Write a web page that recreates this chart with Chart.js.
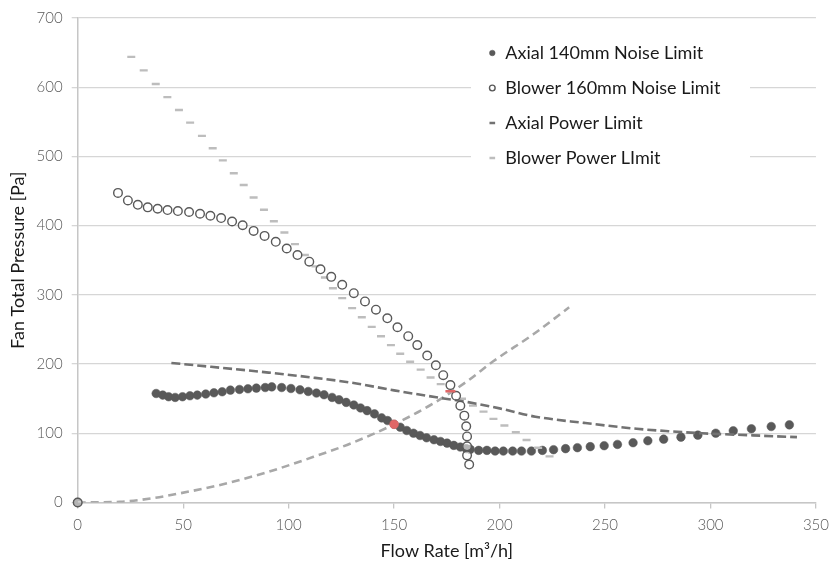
<!DOCTYPE html>
<html>
<head>
<meta charset="utf-8">
<script src="https://cdn.jsdelivr.net/npm/chart.js@4/dist/chart.umd.min.js"></script>
<style>
  html, body { margin: 0; padding: 0; background: #ffffff; }
  #wrap { width: 837px; height: 565px; position: relative; }
</style>
</head>
<body>
<div id="wrap"><canvas id="fanChart"></canvas></div>
<script>
// Flow rate [m3/h] vs. fan total pressure [Pa]
const xTickStep = 50;
const yTickStep = 100;
const xRange = [0, 350];
const yRange = [0, 700];

const seriesNames = [
  'Axial 140mm Noise Limit',
  'Blower 160mm Noise Limit',
  'Axial Power Limit',
  'Blower Power LImit'
];

// [flow, pressure]
const axialNoise = [
  [0, 0], [37.2, 157.5], [40.3, 155.2], [43.1, 152.8], [46.2, 151.8], [49.7, 152.8],
  [53.2, 154.2], [56.7, 155.2], [60.7, 156.7], [64.6, 158.5], [68.5, 160.0],
  [72.4, 162.4], [76.7, 163.3], [80.7, 164.3], [84.7, 165.3], [88.9, 166.1],
  [92.0, 167.1], [96.7, 166.1], [101.1, 164.7], [105.4, 162.8], [109.3, 160.4],
  [113.2, 158.1], [116.8, 155.7], [120.6, 151.8], [123.9, 148.5], [127.3, 144.6],
  [130.9, 140.9], [134.1, 136.6], [137.2, 132.7], [140.7, 128.0], [144.1, 122.2],
  [146.9, 118.4], [150.0, 113.0], [152.9, 108.8], [156.0, 104.0], [159.2, 100.1],
  [162.3, 96.8], [165.4, 93.5], [168.9, 90.7], [172.0, 88.2], [175.1, 85.8],
  [178.3, 82.5], [181.4, 80.1], [184.2, 77.8], [186.1, 76.8], [190.1, 75.3],
  [194.0, 75.3], [197.9, 74.3], [201.8, 74.3], [206.2, 74.3], [210.4, 74.3],
  [215.1, 74.3], [220.3, 75.3], [225.6, 76.3], [231.3, 77.8], [236.9, 79.2],
  [243.0, 80.7], [249.6, 82.1], [255.9, 83.9], [263.3, 86.4], [270.3, 89.2],
  [277.8, 91.5], [286.0, 94.4], [294.0, 97.3], [302.5, 100.1], [310.8, 103.6],
  [319.4, 106.5], [328.8, 109.8], [337.4, 112.2]
];

const blowerNoise = [
  [0, 0], [19.1, 447.3], [23.8, 436.4], [28.5, 430.1], [33.2, 426.4], [37.9, 424.4],
  [42.6, 422.5], [47.5, 421.1], [52.8, 419.7], [58.0, 417.2], [62.9, 414.3],
  [68.0, 411.0], [73.2, 406.0], [78.2, 400.6], [83.4, 392.4], [88.6, 385.2],
  [93.9, 376.6], [99.1, 367.0], [104.2, 357.5], [109.8, 347.9], [115.1, 336.9],
  [120.2, 326.0], [125.4, 314.5], [130.9, 302.4], [136.2, 290.5], [141.4, 278.6],
  [146.8, 266.1], [151.6, 253.2], [156.7, 240.3], [161.0, 227.4], [165.7, 212.3],
  [169.8, 198.3], [173.3, 183.9], [176.7, 169.6], [179.4, 154.2], [181.4, 139.9],
  [183.3, 125.5], [184.2, 110.2], [184.6, 95.4], [184.6, 81.1], [184.6, 68.1],
  [185.6, 54.8]
];

const axialPower = [
  [44.4, 201.6], [60, 197], [80, 191], [90.5, 187.7], [110, 181], [130, 173],
  [150, 162], [170, 152], [185, 145], [200, 136], [217, 124], [240, 115],
  [265, 106.5], [280, 103], [296, 100], [320, 97], [341, 94.4]
];

const blowerPower = [
  [25.4, 643.9], [31.3, 624.4], [37.0, 604.7], [42.5, 585.7], [48.0, 567.0],
  [53.3, 548.8], [58.9, 529.7], [64.0, 511.9], [68.8, 494.3], [74.0, 475.6],
  [78.7, 458.8], [83.4, 440.7], [88.3, 422.9], [93.0, 406.3], [98.0, 390.0],
  [103.0, 373.3], [107.7, 357.5], [112.7, 341.2], [117.2, 325.0], [121.0, 309.6],
  [125.4, 295.3], [130.1, 280.9], [134.7, 267.6], [139.4, 253.7], [143.8, 240.3],
  [148.5, 227.4], [152.9, 214.9], [157.6, 203.4], [162.6, 192.0], [167.3, 180.5],
  [172.1, 171.0], [176.7, 160.7], [182.2, 149.9], [187.4, 139.9], [192.4, 131.3],
  [197.1, 120.8], [202.3, 111.2], [207.7, 101.6], [212.8, 90.4], [218.3, 79.2],
  [223.7, 66.7]
];

// System resistance curve and its operating points
const systemCurve = [
  [0, 0], [20, 1], [35, 6], [48, 13], [67, 25], [90, 44], [109, 63], [130, 86],
  [150, 113], [168, 142], [185, 176], [197, 204], [216, 243], [233, 282]
];
const axialOperatingPoint = [[150, 113]];
const blowerOperatingPoint = [[176.7, 160.7]];

const toPoints = (pairs) => pairs.map(([x, y]) => ({ x, y }));

const FONT = 'Lato, "Open Sans", "DejaVu Sans", sans-serif';
const DARK = '#595959';
const HIGHLIGHT = '#e06666';

// Legend sits in the upper right of the plot area
const LEGEND_LEFT = 471.3;
const LEGEND_TOP = 27;

const legendPlacement = {
  id: 'legendPlacement',
  afterLayout(chart) {
    const lg = chart.legend;
    if (!lg) return;
    const w = lg.width, h = lg.height;
    lg.left = LEGEND_LEFT;
    lg.top = LEGEND_TOP;
    lg.right = lg.left + w;
    lg.bottom = lg.top + h;
  },
  // white panel over the grid lines, then the legend on top of it
  afterDraw(chart) {
    const { ctx } = chart;
    ctx.save();
    ctx.fillStyle = '#ffffff';
    ctx.fillRect(471, 36, 279, 136);
    ctx.restore();
    if (chart.legend) chart.legend.draw();
  }
};

new Chart(document.getElementById('fanChart'), {
  type: 'scatter',
  data: {
    datasets: [
      {
        label: seriesNames[0],
        data: toPoints(axialNoise),
        showLine: false,
        order: 1,
        pointStyle: 'circle',
        pointRadius: 4.3,
        pointBackgroundColor: DARK,
        pointBorderColor: DARK,
        pointBorderWidth: 0.5,
        clip: false
      },
      {
        label: seriesNames[1],
        data: toPoints(blowerNoise),
        showLine: false,
        pointStyle: 'circle',
        pointRadius: 4.3,
        pointBackgroundColor: 'rgba(255,255,255,0.55)',
        pointBorderColor: DARK,
        pointBorderWidth: 1.4,
        clip: false
      },
      {
        label: seriesNames[2],
        data: toPoints(axialPower),
        showLine: true,
        borderColor: '#727272',
        borderWidth: 2.6,
        borderDash: [9, 4],
        cubicInterpolationMode: 'monotone',
        pointStyle: 'line',
        pointRadius: 0,
        pointBorderColor: '#727272',
        pointBorderWidth: 2.6,
        pointBackgroundColor: '#727272'
      },
      {
        label: seriesNames[3],
        data: toPoints(blowerPower),
        showLine: false,
        pointStyle: 'line',
        pointRadius: 4,
        pointBorderColor: '#bdbdbd',
        pointBorderWidth: 2.4,
        pointBackgroundColor: '#bdbdbd'
      },
      {
        label: 'System Curve',
        data: toPoints(systemCurve),
        showLine: true,
        borderColor: '#a8a8a8',
        borderWidth: 2.6,
        borderDash: [8, 5],
        cubicInterpolationMode: 'monotone',
        pointRadius: 0
      },
      {
        label: 'Axial Operating Point',
        data: toPoints(axialOperatingPoint),
        showLine: false,
        order: -1,
        pointStyle: 'circle',
        pointRadius: 4.4,
        pointBackgroundColor: HIGHLIGHT,
        pointBorderColor: HIGHLIGHT,
        pointBorderWidth: 0.5
      },
      {
        label: 'Blower Operating Point',
        data: toPoints(blowerOperatingPoint),
        showLine: false,
        order: -1,
        pointStyle: 'line',
        pointRadius: 5,
        pointBorderColor: HIGHLIGHT,
        pointBorderWidth: 2.6
      }
    ]
  },
  options: {
    responsive: true,
    maintainAspectRatio: false,
    animation: false,
    devicePixelRatio: 1,
    events: [],
    layout: { padding: { top: 14.5, right: 15.3, bottom: 0, left: 0 } },
    plugins: {
      tooltip: { enabled: false },
      legend: {
        position: 'chartArea',
        align: 'start',
        labels: {
          usePointStyle: true,
          boxWidth: 8,
          boxHeight: 4,
          padding: 17,
          color: '#1a1a1a',
          font: { family: FONT, size: 18 },
          filter: (item) => item.datasetIndex < seriesNames.length,
          sort: (a, b) => a.datasetIndex - b.datasetIndex
        }
      }
    },
    scales: {
      x: {
        type: 'linear',
        min: xRange[0],
        max: xRange[1],
        afterFit: (s) => { s.height = 62.5; },
        ticks: {
          stepSize: xTickStep,
          padding: 8,
          color: DARK,
          font: { family: FONT, size: 15, weight: '300' }
        },
        grid: {
          drawOnChartArea: false,
          drawTicks: true,
          tickLength: 6,
          color: '#c6c6c6',
          lineWidth: 1.3
        },
        border: { color: '#c6c6c6', width: 1.5 },
        title: {
          display: true,
          text: 'Flow Rate [m³/h]',
          color: '#1a1a1a',
          font: { family: FONT, size: 18 },
          padding: { top: 0, bottom: 3 }
        }
      },
      y: {
        type: 'linear',
        min: yRange[0],
        max: yRange[1],
        afterFit: (s) => { s.width = 77.7; },
        ticks: {
          stepSize: yTickStep,
          padding: 9,
          color: DARK,
          font: { family: FONT, size: 15, weight: '300' }
        },
        grid: {
          drawTicks: true,
          tickLength: 6,
          color: '#d6d6d6',
          lineWidth: 1.3
        },
        border: { color: '#c6c6c6', width: 1.5 },
        title: {
          display: true,
          text: 'Fan Total Pressure [Pa]',
          color: '#1a1a1a',
          font: { family: FONT, size: 18 },
          padding: { top: 7, bottom: 0 }
        }
      }
    }
  },
  plugins: [legendPlacement]
});
</script>
</body>
</html>
